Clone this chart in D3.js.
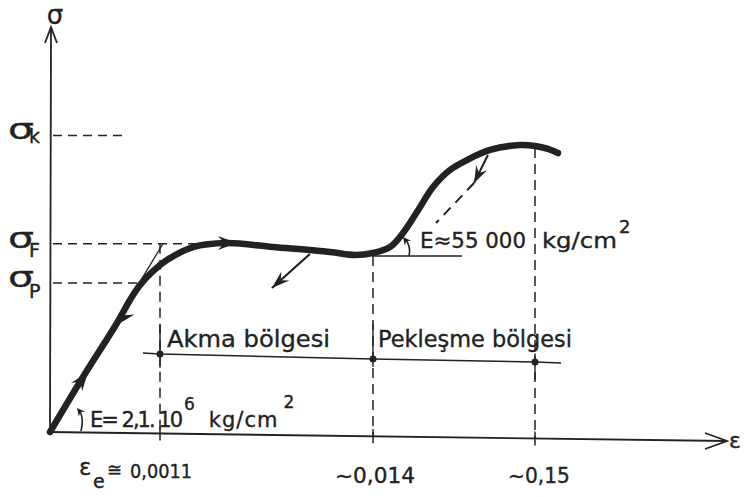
<!DOCTYPE html>
<html>
<head>
<meta charset="utf-8">
<script src="https://cdn.jsdelivr.net/npm/d3@7"></script>
<style>
  body { margin: 0; background: #fff; }
  svg { display: block; }
  text { font-family: "DejaVu Sans", sans-serif; fill: #222; stroke: #222; stroke-width: 0.35; }
</style>
</head>
<body>
<div id="chart"></div>
<script>
// Schematic stress-strain diagram of mild steel (strain axis is not to scale)
const strainTicks = [0.0011, 0.014, 0.15];
const tickLabels = ['0,0011', '~0,014', '~0,15'];

// stress levels in kg/cm2
const levelNames = ['k', 'F', 'P'];
const levelValues = [3780, 2400, 1900];
const levelEnds = [0.00075, 0.00322, 0.0009];   // where each dashed guide stops

// main curve [strain, stress]
const curvePts = [
  [0, 0], [0.00033, 701], [0.00067, 1389], [0.0008, 1683], [0.0009, 1874],
  [0.00103, 2052], [0.00152, 2192], [0.0031, 2358], [0.00516, 2409], [0.00794, 2358],
  [0.0114, 2294], [0.0129, 2256], [0.014, 2282], [0.0283, 2358],
  [0.0392, 2537], [0.0509, 2804], [0.0644, 3123], [0.0786, 3340],
  [0.0929, 3467], [0.1122, 3595], [0.1374, 3658], [0.15, 3646],
  [0.1609, 3608], [0.1693, 3556]
];

// arrowheads along the curve: [from, tip]
const curveArrows = [
  [[0.00030, 630], [0.00038, 765]],
  [[0.00075, 1491], [0.00067, 1364]],
  [[0.00503, 2409], [0.00576, 2409]]
];

// unloading lines
const unloadPlateau = [[0.01018, 2269], [0.00788, 1836]];
const unloadPeak = [[0.1105, 3531], [0.0988, 3174]];
const unloadPeakDash = [[0.0988, 3174], [0.0669, 2664]];

// elastic modulus guide and tangent at start of hardening
const elasticGuide = [[0.00086, 1830], [0.00128, 2400]];
const hardeningBase = [[0.014, 2243], [0.0887, 2243]];

// vertical dashed guides [strain, top stress]
const vGuides = [[0.0011, 2400], [0.014, 2243], [0.15, 3620]];

// region line (Akma / Pekleşme bölgesi)
const regionLine = [[0.00093, 1007], [0.0011, 994], [0.014, 930], [0.15, 892], [0.1718, 880]];
const regionDots = [[0.0011, 994], [0.014, 930], [0.15, 892]];
const regionTicks = [[0.0011, 1370, 820], [0.014, 1370, 830], [0.15, 1000, 660]];

const W = 744, H = 497;
const svg = d3.select('#chart').append('svg').attr('width', W).attr('height', H);

const x = d3.scaleLinear().domain([0, 0.0011, 0.014, 0.15]).range([50, 160, 373, 535]);
const y = d3.scaleLinear().domain([0, 5150]).range([432, 28]);

const ink = '#222';
const line = d3.line().x(d => x(d[0])).y(d => y(d[1]));

function arrowHead(tip, from, len, half) {
  const a = Math.atan2(tip[1] - from[1], tip[0] - from[0]);
  const c = Math.cos(a), s = Math.sin(a);
  const pts = [[0, 0], [-len, -half], [-len * 0.65, 0], [-len, half]]
    .map(p => [tip[0] + p[0] * c - p[1] * s, tip[1] + p[0] * s + p[1] * c]);
  svg.append('path').attr('d', 'M' + pts.join('L') + 'Z').attr('fill', ink);
}
const px = d => [x(d[0]), y(d[1])];

// --- axes ---
const x0 = 48, yA0 = 432, xEnd = 727, yAEnd = 441;
const axisY = xx => yA0 + (xx - x0) / (xEnd - x0) * (yAEnd - yA0);
svg.append('line').attr('x1', x0).attr('y1', yA0).attr('x2', xEnd).attr('y2', yAEnd)
  .attr('stroke', ink).attr('stroke-width', 1.8);
svg.append('path').attr('d', `M705,433L${xEnd},${yAEnd}L705,449`)
  .attr('fill', 'none').attr('stroke', ink).attr('stroke-width', 1.8);
svg.append('line').attr('x1', 50).attr('y1', 433).attr('x2', 51).attr('y2', 28)
  .attr('stroke', ink).attr('stroke-width', 1.8);
svg.append('path').attr('d', 'M45,43L51,27L57,43')
  .attr('fill', 'none').attr('stroke', ink).attr('stroke-width', 1.8);

strainTicks.forEach(t => {
  const xx = x(t), yy = axisY(xx);
  svg.append('line').attr('x1', xx).attr('x2', xx).attr('y1', yy - 7).attr('y2', yy + 7)
    .attr('stroke', ink).attr('stroke-width', 1.5);
});

// axis titles
svg.append('text').attr('x', 55).attr('y', 24).attr('text-anchor', 'middle')
  .attr('font-size', 26).text('σ');
svg.append('text').attr('x', 729).attr('y', 448).attr('font-size', 22).text('ε');

// tick labels
const t0 = svg.append('text').attr('y', 475);
t0.append('tspan').attr('x', 79).attr('font-size', 23).text('ε');
t0.append('tspan').attr('x', 93).attr('y', 488).attr('font-size', 19).text('e');
t0.append('tspan').attr('x', 107).attr('y', 476).attr('font-size', 18).text('≅');
svg.append('text').attr('x', 130).attr('y', 478).attr('font-size', 19)
  .attr('textLength', 62).attr('lengthAdjust', 'spacingAndGlyphs').text(tickLabels[0]);
svg.append('text').attr('x', 335).attr('y', 483).attr('font-size', 21)
  .attr('textLength', 80).attr('lengthAdjust', 'spacingAndGlyphs').text(tickLabels[1]);
svg.append('text').attr('x', 508).attr('y', 483).attr('font-size', 21)
  .attr('textLength', 62).attr('lengthAdjust', 'spacingAndGlyphs').text(tickLabels[2]);

// stress level labels and dashed guides
const subBase = { k: 143, F: 257, P: 298 };
levelNames.forEach((n, i) => {
  const yy = y(levelValues[i]);
  svg.append('line').attr('x1', 53).attr('x2', x(levelEnds[i])).attr('y1', yy).attr('y2', yy)
    .attr('stroke', ink).attr('stroke-width', 1.5).attr('stroke-dasharray', '9,6');
  svg.append('text').attr('x', 8).attr('y', yy + 4).attr('font-size', 28)
    .attr('textLength', 26).attr('lengthAdjust', 'spacingAndGlyphs').text('σ');
  svg.append('text').attr('x', 29).attr('y', subBase[n]).attr('font-size', 19).text(n);
});

// vertical dashed guides
vGuides.forEach(g => {
  svg.append('line').attr('x1', x(g[0])).attr('x2', x(g[0]))
    .attr('y1', y(g[1])).attr('y2', axisY(x(g[0])))
    .attr('stroke', ink).attr('stroke-width', 1.5).attr('stroke-dasharray', '10,6');
});

// thin guide lines
svg.append('path').attr('d', line(elasticGuide)).attr('stroke', ink).attr('stroke-width', 1.3).attr('fill', 'none');
svg.append('path').attr('d', line(hardeningBase)).attr('stroke', ink).attr('stroke-width', 1.5).attr('fill', 'none');

// region line
svg.append('path').attr('d', line(regionLine)).attr('stroke', ink).attr('stroke-width', 1.6).attr('fill', 'none');
regionTicks.forEach(t => {
  svg.append('line').attr('x1', x(t[0])).attr('x2', x(t[0])).attr('y1', y(t[1])).attr('y2', y(t[2]))
    .attr('stroke', ink).attr('stroke-width', 1.4);
});
svg.selectAll('circle.dot').data(regionDots).join('circle')
  .attr('cx', d => x(d[0])).attr('cy', d => y(d[1])).attr('r', 3.5).attr('fill', ink);
svg.append('text').attr('x', 167).attr('y', 347).attr('font-size', 23)
  .attr('textLength', 163).attr('lengthAdjust', 'spacingAndGlyphs').text('Akma bölgesi');
svg.append('text').attr('x', 378).attr('y', 347).attr('font-size', 23)
  .attr('textLength', 194).attr('lengthAdjust', 'spacingAndGlyphs').text('Pekleşme bölgesi');

// main curve
svg.append('path').attr('d', d3.line().x(d => x(d[0])).y(d => y(d[1])).curve(d3.curveCatmullRom.alpha(0.5))(curvePts))
  .attr('fill', 'none').attr('stroke', ink).attr('stroke-width', 6.5)
  .attr('stroke-linecap', 'round').attr('stroke-linejoin', 'round');
curveArrows.forEach(a => arrowHead(px(a[1]), px(a[0]), 19, 7));

// unloading
svg.append('path').attr('d', line(unloadPlateau)).attr('stroke', ink).attr('stroke-width', 2.2).attr('fill', 'none');
arrowHead(px(unloadPlateau[1]), px(unloadPlateau[0]), 18, 6);
svg.append('path').attr('d', line(unloadPeak)).attr('stroke', ink).attr('stroke-width', 2).attr('fill', 'none');
arrowHead(px(unloadPeak[1]), px(unloadPeak[0]), 17, 6);
svg.append('path').attr('d', line(unloadPeakDash)).attr('stroke', ink).attr('stroke-width', 2)
  .attr('fill', 'none').attr('stroke-dasharray', '10,7');

// angle marks
svg.append('path').attr('d', 'M81,431Q84,420 80,411').attr('fill', 'none').attr('stroke', ink).attr('stroke-width', 1.6);
arrowHead([77, 408], [81, 413], 8, 4);
svg.append('path').attr('d', 'M409,256Q411,247 406,240').attr('fill', 'none').attr('stroke', ink).attr('stroke-width', 1.6);
arrowHead([403, 237], [407, 242], 8, 4);

// modulus labels (flowing text, superscripts shifted with dy)
const e1 = svg.append('text').attr('x', 90).attr('y', 427).attr('font-size', 21);
e1.append('tspan').attr('letter-spacing', -2).text('E= 2,1. 10');
e1.append('tspan').attr('dx', 3).attr('dy', -17).attr('font-size', 17).text('6');
e1.append('tspan').attr('dx', 14).attr('dy', 17).attr('letter-spacing', 1).text('kg/cm');
e1.append('tspan').attr('dx', 5).attr('dy', -19).attr('font-size', 17).text('2');

const e2 = svg.append('text').attr('y', 248).attr('font-size', 22);
e2.append('tspan').attr('x', 420).attr('textLength', 106).attr('lengthAdjust', 'spacingAndGlyphs').text('E≈55 000');
e2.append('tspan').attr('x', 542).attr('textLength', 75).attr('lengthAdjust', 'spacingAndGlyphs').text('kg/cm');
e2.append('tspan').attr('x', 619).attr('y', 233).attr('font-size', 18).text('2');
</script>
</body>
</html>
